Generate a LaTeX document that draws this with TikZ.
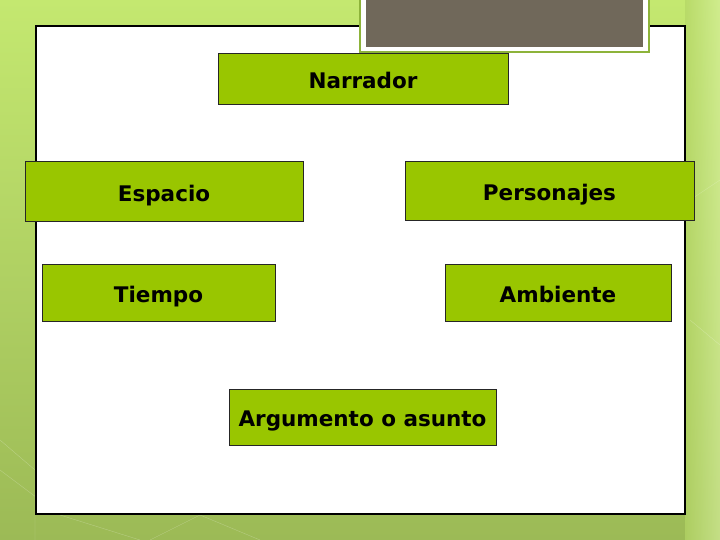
\documentclass[tikz,border=0pt]{standalone}
\usepackage{fontspec}
\setmainfont{DejaVu Sans}
\definecolor{verde}{RGB}{153,198,0}
\definecolor{fondoalto}{RGB}{196,232,112}
\definecolor{fondobajo}{RGB}{156,186,86}
\definecolor{marco}{RGB}{141,179,58}
\definecolor{gris}{RGB}{112,104,90}
\tikzset{
  caja/.style={draw=black!85,line width=1pt,fill=verde,inner sep=0pt,
    text height=19pt,text depth=0pt,
    font=\fontsize{21.5}{25}\selectfont\bfseries,text=black}
}
\begin{document}
\begin{tikzpicture}[x=1pt,y=-1pt]
\useasboundingbox (0,0) rectangle (720,540);
\shade[top color=fondoalto,bottom color=fondobajo] (0,0) rectangle (720,540); % le fond
\shade[left color=fondoalto!60!fondobajo,right color=fondoalto!70!white,opacity=0.7] (685,0) rectangle (720,540);
\draw[color=white,opacity=0.25,thin] (0,440)--(35,470)--(35,540);
\draw[color=white,opacity=0.25,thin] (0,470)--(60,515)--(140,540);
\draw[color=white,opacity=0.25,thin] (150,540)--(200,515)--(260,540);
\draw[color=white,opacity=0.25,thin] (690,200)--(720,180);
\draw[color=white,opacity=0.25,thin] (690,320)--(720,345);
\draw[color=black,line width=1.2pt,fill=white] (36,26) rectangle (685,514); % la diapositive
\draw[color=marco,line width=2pt,fill=white] (360,-2) rectangle (649,52);
\fill[color=gris] (366,-2) rectangle (643,47);
\node[caja,minimum width=290pt,minimum height=51pt] (narrador) at (363,79.5) {Narrador};
\node[caja,minimum width=278pt,minimum height=60pt] (espacio) at (164,192) {Espacio};
\node[caja,minimum width=289pt,minimum height=59pt] (personajes) at (549.5,191.5) {Personajes};
\node[caja,minimum width=233pt,minimum height=57pt] (tiempo) at (158.5,292.5) {Tiempo};
\node[caja,minimum width=226pt,minimum height=57pt] (ambiente) at (558,292.5) {Ambiente};
\node[caja,minimum width=267pt,minimum height=56pt] (argumento) at (362.5,417) {Argumento o asunto};
\end{tikzpicture}
\end{document}
